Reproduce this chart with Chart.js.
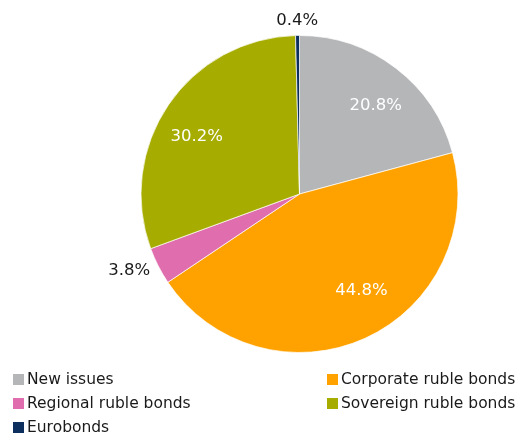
<!DOCTYPE html>
<html>
<head>
<meta charset="utf-8">
<script src="https://cdn.jsdelivr.net/npm/chart.js@4"></script>
<style>
  html, body { margin: 0; padding: 0; background: #fff; }
  #wrap { width: 532px; height: 435px; }
</style>
</head>
<body>
<div id="wrap"><canvas id="pie" width="532" height="435"></canvas></div>
<script>
// data
const categories = ["New issues", "Corporate ruble bonds", "Regional ruble bonds", "Sovereign ruble bonds", "Eurobonds"];
const shares = [20.8, 44.8, 3.8, 30.2, 0.4];
const sliceColors = ["#b5b6b8", "#ffa200", "#e06eae", "#a6ad00", "#0d2f5e"];
const labelTexts = ["20.8%", "44.8%", "3.8%", "30.2%", "0.4%"];

// where each value label sits: fraction of radius along slice middle, plus a small nudge
const labelPlace = [
    { r: 0.75, dx: 4, dy: 6, inside: true },
    { r: 0.73, dx: 14, dy: -9, inside: true },
    { r: 1.22, dx: 2, dy: -11, inside: false },
    { r: 0.73, dx: -7, dy: 8, inside: true },
    { r: 1.1, dx: 0, dy: 1, inside: false }
];

const FONT = "'DejaVu Sans', Verdana, sans-serif";

// draws the percentages on / next to the slices
const sliceLabels = {
    id: "sliceLabels",
    afterDatasetsDraw(chart) {
        const ctx = chart.ctx;
        const arcs = chart.getDatasetMeta(0).data;
        ctx.save();
        ctx.font = "16.5px " + FONT;
        ctx.textAlign = "center";
        ctx.textBaseline = "middle";
        arcs.forEach(function (arc, i) {
            const p = labelPlace[i];
            const mid = (arc.startAngle + arc.endAngle) / 2;
            const x = arc.x + Math.cos(mid) * arc.outerRadius * p.r + p.dx;
            const y = arc.y + Math.sin(mid) * arc.outerRadius * p.r + p.dy;
            ctx.fillStyle = p.inside ? "#ffffff" : "#1a1a1a";
            ctx.fillText(labelTexts[i], x, y);
        });
        ctx.restore();
    }
};

// two column legend below the pie
const twoColLegend = {
    id: "twoColLegend",
    afterDraw(chart) {
        const ctx = chart.ctx;
        const colX = [13, 327];
        const rowY = [380, 404, 428];
        ctx.save();
        ctx.font = "15.5px " + FONT;
        ctx.textBaseline = "middle";
        ctx.textAlign = "left";
        chart.data.labels.forEach(function (name, i) {
            const x = colX[i % 2];
            const y = rowY[Math.floor(i / 2)];
            ctx.fillStyle = chart.data.datasets[0].backgroundColor[i];
            ctx.fillRect(x, y - 6, 11, 11);
            ctx.fillStyle = "#1a1a1a";
            ctx.fillText(name, x + 14, y);
        });
        ctx.restore();
    }
};

new Chart(document.getElementById("pie"), {
    type: "pie",
    data: {
        labels: categories,
        datasets: [{
            data: shares,
            backgroundColor: sliceColors,
            borderColor: "rgba(255,255,255,0.7)",
            borderWidth: 1
        }]
    },
    options: {
        responsive: false,
        animation: false,
        layout: { padding: { left: 140.5, right: 73.5, top: 35, bottom: 82 } },
        plugins: {
            legend: { display: false },
            tooltip: { enabled: false }
        }
    },
    plugins: [sliceLabels, twoColLegend]
});
</script>
</body>
</html>
